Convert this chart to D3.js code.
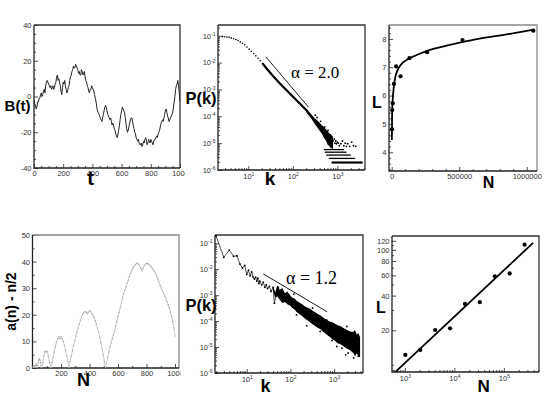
<!DOCTYPE html>
<html><head><meta charset="utf-8">
<script src="https://cdn.jsdelivr.net/npm/d3@7"></script>
<style>
body{margin:0;background:#fff;}
svg{display:block;}
</style></head><body>
<svg id="c" width="553" height="396"></svg>
<script>
// ---------------- DATA ----------------
// Panel 1: random walk B(t)
const p1Walk = [[0,-2],[5,-4],[10,-5],[15,-7],[20,-6],[25,-3],[30,-3],[35,-1],[40,-1],[45,1],[50,2],[55,0],[60,1],[65,3],[70,4],[75,2],[80,6],[85,8],[90,9],[95,8],[100,7],[105,6],[110,5],[115,6],[120,4],[125,5],[130,6],[135,4],[140,5],[145,7],[150,8],[155,11],[160,12],[165,9],[170,10],[175,8],[180,6],[185,3],[190,1],[195,5],[200,8],[205,7],[210,9],[215,6],[220,4],[225,2],[230,3],[235,5],[240,6],[245,9],[250,11],[255,12],[260,14],[265,15],[270,17],[275,16],[280,16],[285,18],[290,17],[295,16],[300,15],[305,13],[310,14],[315,12],[320,12],[325,15],[330,14],[335,12],[340,13],[345,14],[350,11],[355,9],[360,8],[365,6],[370,5],[375,3],[380,2],[385,4],[390,4],[395,6],[400,5],[405,4],[410,3],[415,1],[420,-1],[425,-3],[430,-6],[435,-8],[440,-9],[445,-10],[450,-11],[455,-12],[460,-13],[465,-14],[470,-12],[475,-10],[480,-8],[485,-6],[490,-5],[495,-6],[500,-8],[505,-10],[510,-11],[515,-12],[520,-13],[525,-12],[530,-14],[535,-16],[540,-15],[545,-16],[550,-18],[555,-19],[560,-21],[565,-22],[570,-23],[575,-21],[580,-19],[585,-16],[590,-13],[595,-10],[600,-8],[605,-6],[610,-7],[615,-8],[620,-9],[625,-12],[630,-15],[635,-18],[640,-20],[645,-19],[650,-17],[655,-15],[660,-13],[665,-12],[670,-12],[675,-14],[680,-16],[685,-18],[690,-20],[695,-21],[700,-23],[705,-24],[710,-25],[715,-24],[720,-26],[725,-27],[730,-27],[735,-26],[740,-28],[745,-27],[750,-25],[755,-26],[760,-24],[765,-23],[770,-25],[775,-27],[780,-26],[785,-24],[790,-25],[795,-26],[800,-24],[805,-25],[810,-26],[815,-27],[820,-25],[825,-24],[830,-24],[835,-23],[840,-22],[845,-23],[850,-21],[855,-20],[860,-19],[865,-17],[870,-15],[875,-14],[880,-13],[885,-14],[890,-12],[895,-10],[900,-8],[905,-7],[910,-9],[915,-11],[920,-12],[925,-14],[930,-13],[935,-12],[940,-11],[945,-10],[950,-9],[955,-6],[960,-3],[965,0],[970,4],[975,6],[980,7],[985,9],[990,6],[995,2],[1000,-3]];
const p1XTicks = [0,200,400,600,800,1000];
const p1YTicks = [-40,-20,0,20,40];

// Panel 2: P(k), alpha = 2.0
const p2DotK = [2.63,2.95,3.31,3.72,4.17,4.68,5.25,5.89,6.61,7.41,8.32,9.33,10.5,11.7,13.2,14.8,16.6,18.6,20.9];
const p2DotP = [0.0923,0.0912,0.0891,0.0871,0.0832,0.0776,0.0724,0.0661,0.0589,0.0525,0.0457,0.0380,0.0316,0.0263,0.0219,0.0178,0.0145,0.0117,0.0093];
const p2LineK = [20.9,25.7,36.3,51.3,72.4,102,145,204,288];
const p2LineP = [0.0093,0.00603,0.00309,0.00166,0.000933,0.000525,0.000295,0.000166,0.0000813];
const p2CloudK  = [200,230,260,300,340,400,450,500,560,600,650,700,760,800];
const p2CloudHi = [1.75e-4,1.4e-4,1.15e-4,8.8e-5,7.5e-5,5.8e-5,4.6e-5,4e-5,3.2e-5,2.9e-5,2.4e-5,2.2e-5,1.9e-5,1.7e-5];
const p2CloudLo = [1.45e-4,1.05e-4,8.2e-5,5.6e-5,4.3e-5,2.9e-5,2.2e-5,1.6e-5,1.2e-5,9e-6,8e-6,6.8e-6,6.2e-6,6e-6];
const p2Scatter = [[320,1.1e-4],[350,9e-5],[380,4e-5],[420,6.5e-5],[450,3e-5],[480,2.5e-5],[520,4e-5],[550,2e-5],[580,1.6e-5],[620,3e-5],[650,1.2e-5],[680,2e-5],[720,1.4e-5],[750,1e-5],[800,1.2e-5],[850,1.4e-5],[880,1e-5],[920,1.2e-5],[950,9.5e-6],[1000,1.1e-5],[1050,1e-5],[1100,8e-6],[1200,9.5e-6],[1300,1.2e-5],[1400,8e-6],[1500,1e-5],[1600,7.6e-6],[1700,9.5e-6],[1900,7.6e-6],[2100,1.1e-5],[2300,8e-6],[2600,7.6e-6]];
const p2Bands = [[1.9e-6,740,3700],[2.7e-6,640,2500],[3.6e-6,560,2000],[4.6e-6,520,1600],[5.75e-6,500,1400]];
const p2Ref = [[25,0.0162],[224,2.19e-4]];
const p2Label = "α = 2.0";

// Panel 3: L vs N (linear)
const p3N = [2048,4096,8192,16384,32768,65536,131072,262144,524288,1048576];
const p3L = [4.81,5.49,5.73,6.41,7.03,6.68,7.32,7.53,7.96,8.29];
const p3FitN = [1000,2500,5000,10000,17000,27000,42000,66000,111000,185000,284000,407000,556000,704000,876000,1041000];
const p3FitL = [4.43,5.14,5.61,6.02,6.37,6.65,6.88,7.08,7.26,7.43,7.61,7.76,7.92,8.05,8.18,8.32];
const p3XTicks = [0,500000,1000000];
const p3YTicks = [4,5,6,7,8];

// Panel 4: a(n) - n/2
const p4Seq = [[1,0.5],[4,0],[8,0.5],[12,1],[16,0],[20,1],[24,1.5],[28,1],[32,0],[36,1],[40,2],[44,3],[48,3.5],[52,3],[56,2],[60,1],[64,0],[72,2],[80,4.5],[88,6.3],[96,6],[104,6.3],[112,4.5],[120,2],[128,0],[136,2],[144,4],[152,6],[160,8],[168,9.8],[176,11],[184,11.8],[192,11],[200,11.8],[208,11],[216,10],[224,8.5],[232,6.5],[240,4.5],[248,2.5],[256,0],[264,2.5],[272,4.5],[280,6.5],[288,8.5],[296,10.3],[304,12],[312,13.5],[320,15],[328,16.5],[336,18],[344,19],[352,20],[360,20.8],[368,21.3],[376,21],[384,20.5],[392,21],[400,21.5],[408,21.2],[416,20.5],[424,19.8],[432,19],[440,17.8],[448,16.5],[456,15],[464,13.5],[472,11.5],[480,9.5],[488,7.3],[496,5],[504,2.5],[512,0],[520,2],[528,4],[536,6],[544,8],[552,9.5],[560,11],[568,12.5],[576,14],[584,15.8],[592,17.5],[600,19.3],[608,21],[616,22.8],[624,24.5],[632,26.3],[640,28],[648,29.2],[656,30.5],[664,31.8],[672,33],[680,34.3],[688,35.5],[696,36.5],[704,37.5],[712,38.2],[720,38.8],[728,39.2],[736,39.4],[744,39],[752,38.5],[760,37.5],[768,36.5],[776,37.5],[784,38.5],[792,39],[800,39.4],[808,39.2],[816,39],[824,38.5],[832,38],[840,37.5],[848,37],[856,36.3],[864,35.5],[872,34.5],[880,33.5],[888,32.3],[896,31],[904,30],[912,29],[920,28],[928,27],[936,26],[944,25],[952,23.8],[960,22.5],[968,21],[976,19.5],[984,17.5],[992,15],[1000,12]];
const p4XTicks = [200,400,600,800,1000];
const p4YTicks = [0,10,20,30,40,50];

// Panel 5: P(k), alpha = 1.2
const p5LineK = [2,3,4,5,6,7,8,9,10,11,12,13,14,15,16,17,18,19,20,22,24,26,28,30,33,36,40,43,47,50,53,57];
const p5LineP = [0.19,0.0288,0.055,0.0316,0.0331,0.0158,0.0112,0.0141,0.0063,0.0093,0.0056,0.0079,0.005,0.0042,0.005,0.0035,0.0045,0.0028,0.0035,0.0025,0.0032,0.002,0.0025,0.0018,0.0022,0.0014,0.002,0.00049,0.0011,0.0014,0.002,0.0012];
const p5CloudK  = [40,45,50,57,65,75,85,98,110,125,140,166,190,220,250,282,320,370,420,479,550,630,720,813,920,1050,1200,1365,1600,1900,2310,2700,3000,3290,3600,3920];
const p5CloudHi = [2.2e-3,1.3e-3,2.4e-3,1.6e-3,1.9e-3,1.2e-3,1.4e-3,1.0e-3,8e-4,7.5e-4,6e-4,5e-4,4.4e-4,3.6e-4,3.3e-4,3e-4,2.5e-4,2.2e-4,1.9e-4,1.7e-4,1.4e-4,1.2e-4,1.05e-4,9.5e-5,9e-5,8e-5,7e-5,6.5e-5,5.5e-5,4.8e-5,4e-5,3.8e-5,4.5e-5,3e-5,3.5e-5,2.4e-5];
const p5CloudLo = [1.5e-3,8e-4,9e-4,6.6e-4,5e-4,5.5e-4,4.5e-4,4e-4,3.2e-4,2.8e-4,2.2e-4,1.8e-4,1.5e-4,1.2e-4,1.05e-4,9e-5,7.5e-5,6.5e-5,5.5e-5,5e-5,4e-5,3.3e-5,2.8e-5,2.4e-5,2e-5,1.7e-5,1.4e-5,1.3e-5,1.1e-5,9e-6,7.5e-6,6e-6,5e-6,5.5e-6,4.5e-6,4e-6];
const p5Scatter = [[1840,5e-6],[2090,5.9e-6],[236,6.6e-5],[479,4e-5],[138,1.74e-4],[1150,1.05e-5],[3000,5e-6],[3550,4.4e-6],[676,1.1e-4],[1950,6.2e-5],[2800,3.8e-6],[1500,9e-6],[900,1.8e-5],[320,3.2e-4],[120,1.1e-3]];
const p5Ref = [[24,0.0066],[690,2.29e-4]];
const p5Label = "α = 1.2";

// Panel 6: L vs N (log-log)
const p6N = [1024,2048,4096,8192,16384,32768,65536,131072,262144];
const p6L = [12.2,13.5,20.1,20.8,33.9,35.1,58.9,62.4,111];
const p6Fit = [[646,8.7],[389000,115]];
const p6XTicks = [1000,10000,100000];
const p6YTicks = [20,40,60,80,100,120];

// ---------------- DRAWING ----------------
const svg = d3.select("#c");
const FONT = "'Liberation Sans', Arial, Helvetica, sans-serif";
const SERIF = "'Liberation Serif', 'Times New Roman', serif";
const defs = svg.append("defs");
let cid = 0;
function clip(x0,y0,x1,y1){
  const id = "cl"+(cid++);
  defs.append("clipPath").attr("id",id).append("rect")
    .attr("x",x0).attr("y",y0).attr("width",x1-x0).attr("height",y1-y0);
  return `url(#${id})`;
}
function logMinors(lo, hi){
  const out=[];
  for(let e=Math.floor(Math.log10(lo)); e<=Math.ceil(Math.log10(hi)); e++){
    for(let m=2;m<=9;m++){ const v=m*Math.pow(10,e); if(v>=lo && v<=hi) out.push(v); }
  }
  return out;
}
function styleAxis(g){
  g.attr("font-family",null).attr("font-size",null);
  g.select(".domain").remove();
  g.selectAll(".tick line").attr("stroke","#222").attr("stroke-width",0.8);
  g.selectAll(".tick text").attr("fill","#333").attr("font-size","7.5px").attr("font-family",FONT);
}
function supLabels(g){
  g.selectAll(".tick text").each(function(d){
    const e = Math.round(Math.log10(d));
    const t = d3.select(this);
    t.text("10");
    t.append("tspan").attr("dy","-0.55em").attr("font-size","5px").text(e);
  });
}
function panel(b, xs, ys, o){
  const gx = svg.append("g").attr("clip-path", o.xClip || null);
  const ax = gx.append("g").attr("transform",`translate(0,${b.y1})`)
    .call(d3.axisBottom(xs).tickValues(o.xMajor).tickSizeInner(-4).tickSizeOuter(0).tickPadding(o.xPad||3).tickFormat(o.xFmt||(d=>d)));
  if(o.xLog) supLabels(ax);
  styleAxis(ax);
  if(o.xMinor){
    const m = gx.append("g").attr("transform",`translate(0,${b.y1})`)
      .call(d3.axisBottom(xs).tickValues(o.xMinor).tickSizeInner(-2).tickSizeOuter(0).tickFormat(()=>""));
    styleAxis(m);
  }
  const ay = svg.append("g").attr("transform",`translate(${b.x0},0)`)
    .call(d3.axisLeft(ys).tickValues(o.yMajor).tickSizeInner(-4).tickSizeOuter(0).tickPadding(o.yPad||2.5).tickFormat(o.yFmt||(d=>d)));
  if(o.yLog) supLabels(ay);
  styleAxis(ay);
  if(o.yMinor){
    const m = svg.append("g").attr("transform",`translate(${b.x0},0)`)
      .call(d3.axisLeft(ys).tickValues(o.yMinor).tickSizeInner(-2).tickSizeOuter(0).tickFormat(()=>""));
    styleAxis(m);
  }
  svg.append("path").attr("d",`M${b.x0},${b.y0}H${b.x1}V${b.y1}`)
    .attr("fill","none").attr("stroke",o.frameColor||"#333").attr("stroke-width",1.3);
  svg.append("path").attr("d",`M${b.x0},${b.y0}V${b.y1}H${b.x1}`)
    .attr("fill","none").attr("stroke","#222").attr("stroke-width",1.3);
  return svg.append("g").attr("clip-path", clip(b.x0,b.y0,b.x1,b.y1));
}
function title(txt, x, y, size, rot){
  const t = svg.append("text").attr("font-family",FONT).attr("font-weight","bold")
    .attr("font-size",size+"px").attr("fill","#000").attr("text-anchor","middle").text(txt);
  if(rot) t.attr("transform",`translate(${x},${y}) rotate(-90)`);
  else t.attr("x",x).attr("y",y);
}

// ---- Panel 1 ----
{
  const b={x0:34,x1:180,y0:25,y1:168};
  const xs=d3.scaleLinear([0,1000],[b.x0,b.x1]);
  const ys=d3.scaleLinear([-40,40],[b.y1,b.y0]);
  const g=panel(b,xs,ys,{xMajor:p1XTicks,yMajor:p1YTicks,
    xMinor:d3.range(50,1000,50).filter(v=>v%200),yMinor:d3.range(-35,40,5).filter(v=>v%20),
    xClip:clip(0,0,185,200)});
  g.append("path").datum(p1Walk).attr("fill","none").attr("stroke","#222").attr("stroke-width",1)
    .attr("d",d3.line().x(d=>xs(d[0])).y(d=>ys(d[1])));
  title("B(t)",17.5,111,15);
  title("t",90.5,185,20);
}

// ---- Panel 2 ----
{
  const b={x0:218,x1:365,y0:25,y1:170};
  const xs=d3.scaleLog([2.09,4170],[b.x0,b.x1]);
  const ys=d3.scaleLog([1e-6,0.251],[b.y1,b.y0]);
  const g=panel(b,xs,ys,{xMajor:[10,100,1000],yMajor:[1e-6,1e-5,1e-4,1e-3,1e-2,1e-1],xLog:true,yLog:true,
    xMinor:logMinors(2.09,4170),yMinor:logMinors(1e-6,0.251),xPad:3.5});
  g.selectAll("circle.d").data(p2DotK).join("circle").attr("cx",d=>xs(d)).attr("cy",(d,i)=>ys(p2DotP[i])).attr("r",0.8).attr("fill","#000");
  g.append("path").datum(p2LineK).attr("fill","none").attr("stroke","#000").attr("stroke-width",2.2)
    .attr("d",d3.line().x(d=>xs(d)).y((d,i)=>ys(p2LineP[i])));
  g.append("path").datum(p2CloudK).attr("fill","#000")
    .attr("d",d3.area().x(d=>xs(d)).y0((d,i)=>ys(p2CloudLo[i])).y1((d,i)=>ys(p2CloudHi[i])));
  g.selectAll("circle.s").data(p2Scatter).join("circle").attr("cx",d=>xs(d[0])).attr("cy",d=>ys(d[1])).attr("r",0.9).attr("fill","#000");
  g.selectAll("line.band").data(p2Bands).join("line")
    .attr("x1",d=>xs(d[1])).attr("x2",d=>xs(d[2])).attr("y1",d=>ys(d[0])).attr("y2",d=>ys(d[0]))
    .attr("stroke","#000").attr("stroke-width",(d,i)=>i===0?2.2:1.3);
  g.append("line").attr("x1",xs(p2Ref[0][0])).attr("y1",ys(p2Ref[0][1])).attr("x2",xs(p2Ref[1][0])).attr("y2",ys(p2Ref[1][1]))
    .attr("stroke","#000").attr("stroke-width",0.9);
  svg.append("text").attr("x",291).attr("y",78).attr("font-family",SERIF).attr("font-size","17px").text(p2Label);
  title("P(k)",201,104,16.5);
  title("k",270,185,19);
}

// ---- Panel 3 ----
{
  const b={x0:389,x1:537,y0:25,y1:171};
  const xs=d3.scaleLinear([-20000,1076000],[b.x0,b.x1]);
  const ys=d3.scaleLinear([3.34,8.49],[b.y1,b.y0]);
  const g=panel(b,xs,ys,{xMajor:p3XTicks,yMajor:p3YTicks,
    xMinor:d3.range(100000,1100000,100000).filter(v=>v%500000),yMinor:d3.range(3.4,8.5,0.2).filter(v=>Math.abs(v-Math.round(v))>0.05),
    frameColor:"#888"});
  g.append("path").datum(p3FitN).attr("fill","none").attr("stroke","#000").attr("stroke-width",1.8)
    .attr("d",d3.line().x(d=>xs(d)).y((d,i)=>ys(p3FitL[i])).curve(d3.curveMonotoneX));
  g.selectAll("circle").data(p3N).join("circle").attr("cx",d=>xs(d)).attr("cy",(d,i)=>ys(p3L[i])).attr("r",2.1).attr("fill","#000");
  title("L",377,108.3,16);
  title("N",488.5,188,16);
}

// ---- Panel 4 ----
{
  const b={x0:32.5,x1:179,y0:235,y1:368};
  const xs=d3.scaleLinear([0,1028],[b.x0,b.x1]);
  const ys=d3.scaleLinear([0,50],[b.y1,b.y0]);
  const g=panel(b,xs,ys,{xMajor:p4XTicks,yMajor:p4YTicks,
    xMinor:d3.range(100,1000,100).filter(v=>v%200),yMinor:d3.range(5,50,5).filter(v=>v%10),
    xClip:clip(0,200,180.5,396),frameColor:"#888"});
  g.append("path").datum(p4Seq).attr("fill","none").attr("stroke","#c4c4c4").attr("stroke-width",0.9)
    .attr("d",d3.line().x(d=>xs(d[0])).y(d=>ys(d[1])));
  g.selectAll("circle").data(p4Seq).join("circle").attr("cx",d=>xs(d[0])).attr("cy",d=>ys(d[1])).attr("r",0.7).attr("fill","#a8a8a8");
  title("a(n) - n/2",15.5,301.5,14,true);
  title("N",83.5,385.5,18);
}

// ---- Panel 5 ----
{
  const b={x0:215,x1:363,y0:235,y1:373};
  const xs=d3.scaleLog([1.884,4571],[b.x0,b.x1]);
  const ys=d3.scaleLog([1e-6,0.209],[b.y1,b.y0]);
  const g=panel(b,xs,ys,{xMajor:[10,100,1000],yMajor:[1e-6,1e-5,1e-4,1e-3,1e-2,1e-1],xLog:true,yLog:true,
    xMinor:logMinors(1.884,4571),yMinor:logMinors(1e-6,0.209),xPad:3.5});
  g.append("path").datum(p5LineK).attr("fill","none").attr("stroke","#222").attr("stroke-width",0.8)
    .attr("d",d3.line().x(d=>xs(d)).y((d,i)=>ys(p5LineP[i])));
  g.selectAll("circle.d").data(p5LineK).join("circle").attr("cx",d=>xs(d)).attr("cy",(d,i)=>ys(p5LineP[i])).attr("r",0.9).attr("fill","#000");
  g.append("path").datum(p5CloudK).attr("fill","#000")
    .attr("d",d3.area().x(d=>xs(d)).y0((d,i)=>ys(p5CloudLo[i])).y1((d,i)=>ys(p5CloudHi[i])));
  g.selectAll("circle.s").data(p5Scatter).join("circle").attr("cx",d=>xs(d[0])).attr("cy",d=>ys(d[1])).attr("r",0.9).attr("fill","#000");
  g.append("line").attr("x1",xs(p5Ref[0][0])).attr("y1",ys(p5Ref[0][1])).attr("x2",xs(p5Ref[1][0])).attr("y2",ys(p5Ref[1][1]))
    .attr("stroke","#000").attr("stroke-width",0.9);
  svg.append("text").attr("x",286).attr("y",284).attr("font-family",SERIF).attr("font-size","18px").text(p5Label);
  title("P(k)",201,311,16.5);
  title("k",265.5,391.5,18);
}

// ---- Panel 6 ----
{
  const b={x0:392,x1:539,y0:236,y1:372};
  const xs=d3.scaleLog([550,512900],[b.x0,b.x1]);
  const ys=d3.scaleLog([8.67,132],[b.y1,b.y0]);
  const g=panel(b,xs,ys,{xMajor:p6XTicks,yMajor:p6YTicks,xLog:true,
    xMinor:logMinors(550,512900),yMinor:[9,10,30,50,70,90,110],xPad:3.5});
  g.append("line").attr("x1",xs(p6Fit[0][0])).attr("y1",ys(p6Fit[0][1])).attr("x2",xs(p6Fit[1][0])).attr("y2",ys(p6Fit[1][1]))
    .attr("stroke","#000").attr("stroke-width",1.8);
  g.selectAll("circle").data(p6N).join("circle").attr("cx",d=>xs(d)).attr("cy",(d,i)=>ys(p6L[i])).attr("r",2.1).attr("fill","#000");
  title("L",381,313,16);
  title("N",483.7,391.5,17);
}
</script>
</body></html>
